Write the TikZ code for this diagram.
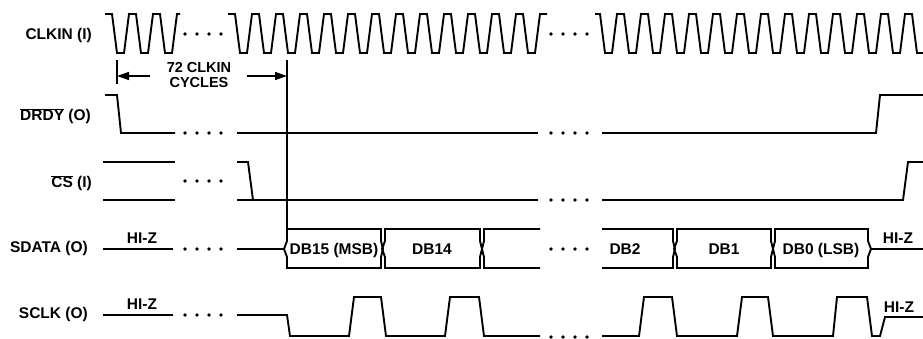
\documentclass[tikz,border=0pt]{standalone}
\usepackage{fontspec}
\setmainfont{Liberation Sans}
\usetikzlibrary{arrows.meta}
\newcommand\dataBox[2]{%
  \draw[wave] (#1,229) -- (#1,241) -- ({#1-3},249) -- (#1,257) -- (#1,268) -- (#2,268) -- (#2,257) -- ({#2+2},249) -- (#2,241) -- (#2,229) -- cycle;}
\begin{document}
\begin{tikzpicture}[x=1pt,y=-1pt,
  wave/.style={line width=1.9pt, line join=miter},
  marker/.style={line width=1.1pt},
  lbl/.style={font=\fontsize{15.5}{16}\selectfont\bfseries, inner sep=0pt},
  small/.style={font=\fontsize{14.5}{15}\selectfont\bfseries, inner sep=0pt, align=center},
  arr/.style={line width=1.5pt, -{Triangle[length=12pt,width=8pt]}}]
\useasboundingbox (0,0) rectangle (923,339);
\fill[white] (0,0) rectangle (923,339);

% signal names
\node[lbl, anchor=base east] (lclk) at (92,39.5) {CLKIN (I)};
\node[lbl, anchor=base east] (ldrdy) at (91,121) {$\overline{\mbox{DRDY}}$ (O)};
\node[lbl, anchor=base east] (lcs) at (92,188) {$\overline{\mbox{CS}}$ (I)};
\node[lbl, anchor=base east] (lsd) at (88,252.5) {SDATA (O)};
\node[lbl, anchor=base east] (lsc) at (88,318) {SCLK (O)};

\begin{scope}
\clip (0,0) rectangle (923,339);
% CLKIN
\draw[wave] (105,14) \foreach \k in {1,2,3} { -- ++(7,0) -- ++(5,39) -- ++(7,0) -- ++(5,-39) } -- ++(3,0);
\draw[wave] (228,14) \foreach \k in {1,...,13} { -- ++(7,0) -- ++(5,39) -- ++(7,0) -- ++(5,-39) } -- ++(7,0);
\draw[wave] (595,14) -- ++(5,0) -- ++(5,39) -- ++(7,0) -- ++(5,-39) \foreach \k in {1,...,14} { -- ++(7,0) -- ++(5,39) -- ++(7,0) -- ++(5,-39) };

% DRDY
\draw[wave] (105,95) -- (117,95) -- (121,133) -- (175,133);
\draw[wave] (237,133) -- (538,133);
\draw[wave] (602,133) -- (876,133) -- (880,95) -- (923,95);

% CS
\draw[wave] (103,162) -- (175,162);
\draw[wave] (103,200) -- (175,200);
\draw[wave] (237,162) -- (248,162) -- (253,200);
\draw[wave] (237,200) -- (538,200);
\draw[wave] (602,200) -- (903,200) -- (908,162) -- (923,162);

% SDATA
\draw[wave] (103,249) -- (173,249);
\draw[wave] (237,249) -- (284,249);
\dataBox{287}{381}
\dataBox{385}{480}
\draw[wave] (540,229) -- (484,229) -- (484,241) -- (482,249) -- (484,257) -- (484,268) -- (540,268);
\draw[wave] (602,229) -- (673,229) -- (673,241) -- (675,249) -- (673,257) -- (673,268) -- (602,268);
\dataBox{677}{771}
\draw[wave] (775,229) -- (775,241) -- (773,249) -- (775,257) -- (775,268) -- (868,268) -- (868,257) -- (871,249) -- (868,241) -- (868,229) -- cycle;
\draw[wave] (871,249) -- (923,249);

% SCLK
\draw[wave] (103,315) -- (173,315);
\draw[wave] (237,315) -- (287,315) -- (290,336) -- (349,336) -- (354,297) -- (381,297) -- (386,336) -- (445,336) -- (450,297) -- (479,297) -- (484,336) -- (540,336);
\draw[wave] (602,336) -- (639,336) -- (644,297) -- (672,297) -- (677,336) -- (737,336) -- (742,297) -- (768,297) -- (773,336) -- (833,336) -- (837,297) -- (867,297) -- (872,336) -- (880,336) -- (885,317) -- (923,317);
\end{scope}

% continuation dots: first gap
\foreach \y in {34,133,181,249,315} {
  \foreach \x in {185,197,209,221} { \fill (\x,\y) circle (1.8); }
}
% continuation dots: second gap
\foreach \y in {34,133,200,249,337} {
  \foreach \x in {551,563,575,587} { \fill (\x,\y) circle (1.8); }
}

% data labels
\node[lbl, anchor=base] (d15) at (334,254.5) {DB15 (MSB)};
\node[lbl, anchor=base] (d14) at (432,254.5) {DB14};
\node[lbl, anchor=base] (d2) at (625,254.5) {DB2};
\node[lbl, anchor=base] (d1) at (724,254.5) {DB1};
\node[lbl, anchor=base] (d0) at (821,254.5) {DB0 (LSB)};
\node[lbl, anchor=base] (hz1) at (142,243) {HI-Z};
\node[lbl, anchor=base] (hz2) at (898,243.5) {HI-Z};
\node[lbl, anchor=base] (hz3) at (142,309) {HI-Z};
\node[lbl, anchor=base] (hz4) at (899,312) {HI-Z};

% 72 CLKIN cycles
\coordinate (tl) at (117,60);
\coordinate (tlb) at (117,84);
\coordinate (mt) at (287,60);
\coordinate (mb) at (287,229);
\draw[marker] (tl) -- (tlb);
\draw[marker] (mt) -- (mb);
\node[small] (cyc) at (199,75.5) {72 CLKIN\\CYCLES};
\coordinate (al) at (150,76);
\coordinate (ar) at (247,76);
\draw[arr] (al) -- (tl |- al);
\draw[arr] (ar) -- (mt |- ar);
\end{tikzpicture}
\end{document}
